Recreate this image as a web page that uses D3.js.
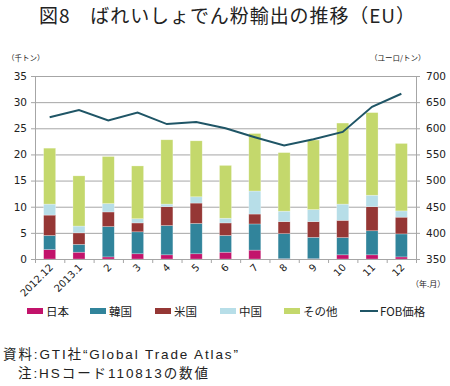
<!DOCTYPE html>
<html>
<head>
<meta charset="utf-8">
<script src="https://cdn.jsdelivr.net/npm/d3@7"></script>
<style>
  body { margin: 0; background: #fff; }
  svg text { font-family: "DejaVu Sans", sans-serif; fill: #222; }
  .jp { font-family: "Noto Sans CJK JP", sans-serif; }
  .foot { font-family: "Liberation Sans", "Noto Sans CJK JP", sans-serif; }
  .axis path, .axis line { stroke: #a6a6a6; }
  .grid line { stroke: #a6a6a6; }
  .grid path { display: none; }
</style>
</head>
<body>
<div class="chart"></div>
<script>
// data (thousand t, euro/t)
var categories = ["2012.12", "2013.1", "2", "3", "4", "5", "6", "7", "8", "9", "10", "11", "12"];
var japan = [1.8, 1.3, 0.4, 1.0, 0.8, 1.0, 1.3, 1.7, 0.05, 0.05, 0.8, 0.8, 0.4];
var korea = [2.7, 1.5, 5.8, 4.2, 5.6, 5.8, 3.2, 5.0, 4.8, 4.1, 3.3, 4.6, 4.4];
var usa = [3.9, 2.2, 2.8, 1.7, 3.6, 3.9, 2.4, 1.9, 2.3, 3.0, 3.3, 4.6, 3.2];
var china = [2.1, 1.3, 1.6, 0.8, 0.5, 1.2, 0.9, 4.4, 2.0, 2.3, 3.1, 2.2, 1.2];
var other = [10.7, 9.6, 9.0, 10.1, 12.3, 10.7, 10.1, 11.0, 11.2, 13.3, 15.5, 15.8, 12.9];
var fob = [621, 635, 615, 630, 608, 612, 600, 583, 567, 579, 593, 641, 666];

var seriesNames = ["日本", "韓国", "米国", "中国", "その他"];
var seriesColors = ["#c2136b", "#31849b", "#953735", "#b7dee8", "#c4d86c"];
var lineColor = "#1f5566";

var svgWidth = 450;
var svgHeight = 386;
var margin = { top: 76, right: 34, bottom: 127, left: 35 };
var width = svgWidth - margin.left - margin.right;
var height = svgHeight - margin.top - margin.bottom;

var svg = d3.select(".chart").append("svg")
  .attr("width", svgWidth)
  .attr("height", svgHeight);

// title
svg.append("text")
  .attr("class", "jp")
  .attr("x", 227)
  .attr("y", 22.5)
  .attr("text-anchor", "middle")
  .attr("textLength", 376)
  .attr("lengthAdjust", "spacing")
  .style("font-size", "19px")
  .text("図8　ばれいしょでん粉輸出の推移（EU）");

// unit labels
svg.append("text").attr("class", "jp")
  .attr("x", 7).attr("y", 61)
  .style("font-size", "7.5px")
  .text("（千トン）");
svg.append("text").attr("class", "jp")
  .attr("x", 370).attr("y", 61)
  .style("font-size", "7.5px")
  .text("（ユーロ/トン）");

var chartGroup = svg.append("g")
  .attr("transform", `translate(${margin.left}, ${margin.top})`);

var x = d3.scaleBand()
  .domain(categories)
  .range([0, width])
  .paddingInner(0.59)
  .paddingOuter(0.295);

var xSlots = d3.scaleLinear().domain([0, categories.length]).range([0, width]);

var y = d3.scaleLinear().domain([0, 35]).range([height, 0]);
var y2 = d3.scaleLinear().domain([350, 700]).range([height, 0]);

// gridlines
chartGroup.append("g")
  .attr("class", "grid")
  .call(d3.axisLeft(y).tickValues(d3.range(5, 36, 5)).tickSize(-width).tickFormat(""));

// stacked bars
var table = categories.map(function(c, i) {
  return { cat: c, "日本": japan[i], "韓国": korea[i], "米国": usa[i], "中国": china[i], "その他": other[i] };
});
var stacked = d3.stack().keys(seriesNames)(table);

chartGroup.selectAll(".series")
  .data(stacked)
  .enter()
  .append("g")
  .attr("fill", (d, i) => seriesColors[i])
  .selectAll("rect")
  .data(d => d)
  .enter()
  .append("rect")
  .attr("x", d => x(d.data.cat))
  .attr("width", x.bandwidth())
  .attr("y", d => y(d[1]))
  .attr("height", d => Math.max(0, y(d[0]) - y(d[1])))
  .attr("stroke", "rgba(255,255,255,0.45)")
  .attr("stroke-width", 0.6);

// FOB line
var line = d3.line()
  .x((d, i) => x(categories[i]) + x.bandwidth() / 2)
  .y(d => y2(d));

chartGroup.append("path")
  .datum(fob)
  .attr("fill", "none")
  .attr("stroke", lineColor)
  .attr("stroke-width", 2)
  .attr("d", line);

// axes
chartGroup.append("g")
  .attr("class", "axis")
  .call(d3.axisLeft(y).tickValues(d3.range(0, 36, 5)).tickSize(4).tickPadding(4))
  .call(g => g.selectAll("text").style("font-size", "10.5px"));

chartGroup.append("g")
  .attr("class", "axis")
  .attr("transform", `translate(${width}, 0)`)
  .call(d3.axisRight(y2).tickValues(d3.range(350, 701, 50)).tickSize(4).tickPadding(6))
  .call(g => g.selectAll("text").style("font-size", "10.5px"));

chartGroup.append("g")
  .attr("class", "axis")
  .attr("transform", `translate(0, ${height})`)
  .call(d3.axisBottom(xSlots).ticks(categories.length).tickValues(d3.range(0, categories.length + 1)).tickSize(4).tickFormat(""));

// category labels
chartGroup.selectAll(".xlab")
  .data(categories)
  .enter()
  .append("text")
  .attr("class", "xlab")
  .attr("text-anchor", "end")
  .attr("transform", d => `translate(${x(d) + x.bandwidth() / 2 + 4}, ${height + 9}) rotate(-45)`)
  .style("font-size", "10px")
  .text(d => d);

svg.append("text").attr("class", "jp")
  .attr("x", 411).attr("y", 287)
  .style("font-size", "8px")
  .text("（年.月）");

// legend
var legendItems = seriesNames.map((n, i) => ({ name: n, color: seriesColors[i], type: "box" }));
legendItems.push({ name: "FOB価格", color: lineColor, type: "line" });
var legendX = [27, 90, 155, 220, 284, 360];

var legend = svg.append("g");
legendItems.forEach(function(item, i) {
  var g = legend.append("g").attr("transform", `translate(${legendX[i]}, 311)`);
  if (item.type === "box") {
    g.append("rect").attr("x", 0).attr("y", -3).attr("width", 16).attr("height", 6).attr("fill", item.color);
  } else {
    g.append("line").attr("x1", 0).attr("x2", 18).attr("y1", 0).attr("y2", 0)
      .attr("stroke", item.color).attr("stroke-width", 2);
  }
  g.append("text").attr("class", "jp")
    .attr("x", item.type === "box" ? 19 : 20)
    .attr("y", 4.5)
    .style("font-size", "11.5px")
    .text(item.name);
});

// footer
svg.append("text").attr("class", "foot")
  .attr("x", 3).attr("y", 359)
  .attr("textLength", 235)
  .attr("lengthAdjust", "spacing")
  .style("font-size", "13.5px")
  .text("資料:GTI社“Global Trade Atlas”");
svg.append("text").attr("class", "foot")
  .attr("x", 18).attr("y", 378)
  .attr("textLength", 190)
  .attr("lengthAdjust", "spacing")
  .style("font-size", "13.5px")
  .text("注:HSコード110813の数値");
</script>
</body>
</html>
